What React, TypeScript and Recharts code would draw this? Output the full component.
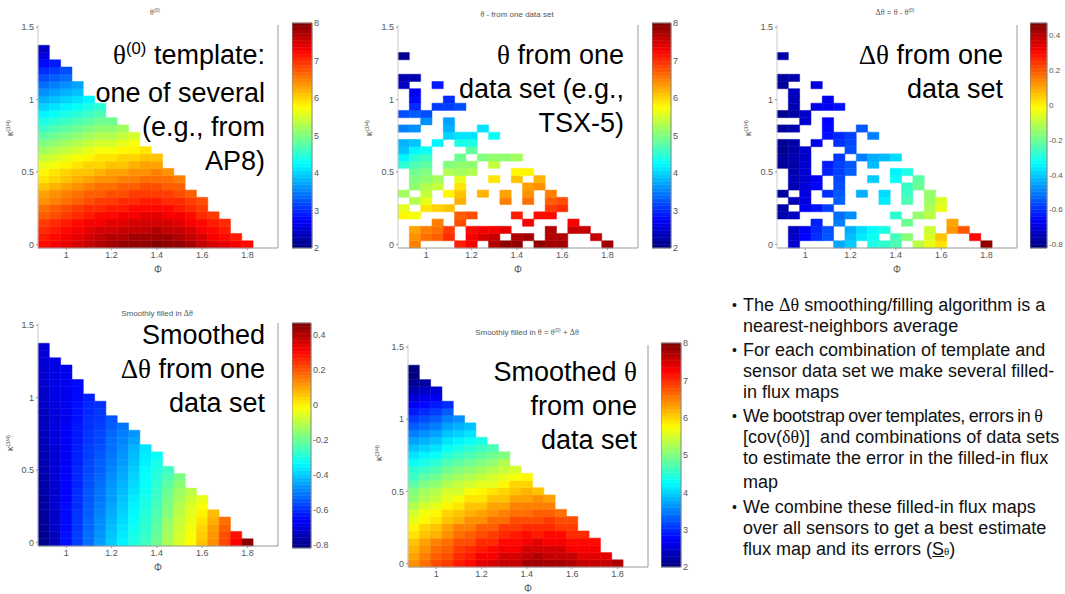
import React from "react";
import { ScatterChart, Scatter, XAxis, YAxis, ReferenceArea } from "recharts";

// grid centres
const PHI = [0.9, 0.95, 1.0, 1.05, 1.1, 1.15, 1.2, 1.25, 1.3, 1.35, 1.4, 1.45, 1.5, 1.55, 1.6, 1.65, 1.7, 1.75, 1.8];
const KAPPA = [
  0, 0.05, 0.1, 0.15, 0.2, 0.25, 0.3, 0.35, 0.4, 0.45, 0.5, 0.55, 0.6, 0.65,
  0.7, 0.75, 0.8, 0.85, 0.9, 0.95, 1.0, 1.05, 1.1, 1.15, 1.2, 1.25, 1.3, 1.35,
];
const PHI_TICKS = [1, 1.2, 1.4, 1.6, 1.8];
const KAPPA_TICKS = [0, 0.5, 1, 1.5];
const THETA_TICKS = [2, 3, 4, 5, 6, 7, 8];
const DELTA_TICKS = [-0.8, -0.6, -0.4, -0.2, 0, 0.2, 0.4];
const THETA_RANGE: [number, number] = [2, 8];
const DELTA_RANGE: [number, number] = [-0.82, 0.47];

const n = null;

// each inner array is one Φ column, from κ = 0 upwards
const theta0Cols: number[][] = [
  [7.2, 7.1, 7.0, 6.9, 6.7, 6.6, 6.4, 6.3, 6.1, 5.9, 5.8, 5.6, 5.4, 5.2, 5.0, 4.8, 4.6, 4.4, 4.2, 4.0, 3.8, 3.6, 3.4, 3.2, 3.0, 2.8, 2.6, 2.4],
  [7.3, 7.2, 7.1, 7.0, 6.8, 6.7, 6.5, 6.4, 6.2, 6.0, 5.9, 5.7, 5.5, 5.3, 5.1, 4.9, 4.7, 4.5, 4.3, 4.1, 3.9, 3.7, 3.5, 3.3, 3.1, 2.9],
  [7.4, 7.3, 7.2, 7.1, 6.9, 6.8, 6.6, 6.5, 6.3, 6.1, 6.0, 5.8, 5.6, 5.4, 5.2, 5.0, 4.8, 4.6, 4.4, 4.2, 4.0, 3.8, 3.6, 3.4, 3.2],
  [7.5, 7.4, 7.3, 7.2, 7.0, 6.9, 6.7, 6.6, 6.4, 6.2, 6.1, 5.9, 5.7, 5.5, 5.3, 5.1, 4.9, 4.7, 4.5, 4.3, 4.1, 3.9, 3.7],
  [7.6, 7.5, 7.4, 7.3, 7.1, 7.0, 6.8, 6.7, 6.5, 6.3, 6.1, 6.0, 5.8, 5.6, 5.4, 5.2, 5.0, 4.8, 4.6, 4.4, 4.2],
  [7.7, 7.6, 7.5, 7.3, 7.2, 7.0, 6.9, 6.7, 6.6, 6.4, 6.2, 6.0, 5.9, 5.7, 5.5, 5.3, 5.1, 4.9, 4.7, 4.5],
  [7.8, 7.7, 7.5, 7.4, 7.2, 7.1, 6.9, 6.8, 6.6, 6.4, 6.3, 6.1, 5.9, 5.7, 5.5, 5.3, 5.1, 4.9],
  [7.9, 7.7, 7.6, 7.4, 7.3, 7.1, 7.0, 6.8, 6.7, 6.5, 6.3, 6.1, 6.0, 5.8, 5.6, 5.4, 5.2],
  [7.9, 7.8, 7.6, 7.5, 7.3, 7.2, 7.0, 6.9, 6.7, 6.5, 6.4, 6.2, 6.0, 5.8, 5.7, 5.5],
  [7.9, 7.8, 7.6, 7.5, 7.4, 7.2, 7.1, 6.9, 6.8, 6.6, 6.4, 6.3, 6.1, 5.9],
  [8.0, 7.8, 7.7, 7.5, 7.4, 7.2, 7.1, 6.9, 6.8, 6.6, 6.5, 6.3, 6.1],
  [7.9, 7.8, 7.6, 7.5, 7.3, 7.2, 7.0, 6.9, 6.7, 6.6, 6.4],
  [7.9, 7.7, 7.6, 7.4, 7.3, 7.1, 7.0, 6.8, 6.7, 6.5],
  [7.8, 7.6, 7.5, 7.3, 7.2, 7.0, 6.9, 6.7],
  [7.6, 7.5, 7.3, 7.2, 7.0, 6.9, 6.8],
  [7.5, 7.3, 7.2, 7.1, 6.9],
  [7.4, 7.2, 7.1, 7.0],
  [7.3, 7.1],
  [7.2],
];

const thetaCols: (number | null)[][] = [
  [n, n, n, n, 5.8, 5.6, n, 5.2, n, n, n, 4.5, 4.2, 3.9, 3.8, n, 3.5, n, 3.2, n, n, n, 2.4, 2.3, n, n, 2.1, n],
  [6.5, 6.4, 6.3, n, 5.7, n, 5.3, n, 5.1, 5.0, 4.9, 4.7, 4.5, 4.2, 3.9, n, 3.6, n, 3.3, 3.0, 2.8, 2.7, n, 2.3, n, n],
  [n, 6.6, 6.5, n, n, 5.9, 5.6, 5.4, 5.3, 5.1, 5.0, 4.8, 4.6, 4.3, n, n, n, 3.6, 3.2, n, n, n, n, n, n],
  [n, 6.7, 6.6, 6.5, n, 6.0, n, n, 5.4, 5.2, n, n, n, n, 4.2, n, n, n, n, 3.1, n, n, 2.9],
  [n, 7.0, 6.9, n, n, 6.1, n, 5.8, n, n, 5.3, 5.0, n, n, n, 4.0, 3.8, 3.7, n, 3.1, 3.0],
  [7.1, n, n, 6.8, 6.7, n, 6.2, 6.1, 5.9, 5.6, 5.2, 5.1, 4.9, n, 4.4, 4.1, n, n, n, 3.2],
  [7.3, 7.3, 7.2, n, 6.8, n, n, n, n, n, 5.3, 5.1, n, 4.8, 4.4, 4.1, n, n],
  [n, 7.5, 7.3, n, n, n, n, 6.2, n, n, n, n, 5.0, n, n, n, 4.1],
  [7.7, 7.6, 7.3, n, n, n, n, n, n, 5.9, n, 5.4, 5.1, n, n, 4.3],
  [7.9, n, 7.4, n, n, n, 6.5, 6.3, n, n, n, n, 5.1, n],
  [7.9, 7.7, n, n, 7.1, n, n, n, n, 6.1, 5.8, n, 5.2],
  [n, 7.8, n, 7.3, n, n, 6.6, 6.4, 6.3, n, 5.8],
  [7.9, n, n, n, 7.2, n, n, n, 6.4, 6.2],
  [7.8, 7.7, 7.7, n, 7.2, 6.9, 6.7, 6.5],
  [7.8, 7.7, n, n, n, 7.0, 6.8],
  [n, n, 7.6, 7.3, n],
  [n, n, 7.6, n],
  [n, 7.6],
  [7.8],
];

const deltaCols: (number | null)[][] = [
  [n, n, n, n, -0.76, -0.77, n, -0.78, n, n, n, -0.79, -0.78, -0.8, -0.79, n, -0.78, n, -0.8, n, n, n, -0.79, -0.78, n, n, -0.77, n],
  [-0.72, -0.73, -0.74, n, -0.74, n, -0.75, n, -0.76, -0.75, -0.76, -0.77, -0.76, -0.77, -0.77, n, -0.76, n, -0.77, -0.76, -0.75, -0.74, n, -0.76, n, n],
  [n, -0.66, -0.67, n, n, -0.68, -0.7, -0.7, -0.71, -0.72, -0.71, -0.72, -0.73, -0.72, n, n, n, -0.72, -0.73, n, n, n, n, n, n],
  [n, -0.6, -0.61, -0.62, n, -0.64, n, n, -0.66, -0.67, n, n, n, n, -0.68, n, n, n, n, -0.69, n, n, -0.7],
  [n, -0.55, -0.56, n, n, -0.58, n, -0.6, n, n, -0.62, -0.63, n, n, n, -0.64, -0.65, -0.66, n, -0.67, -0.68],
  [-0.45, n, n, -0.5, -0.52, n, -0.54, -0.55, -0.56, -0.57, -0.58, -0.58, -0.59, n, -0.6, -0.61, n, n, n, -0.64],
  [-0.4, -0.42, -0.44, n, -0.48, n, n, n, n, n, -0.54, -0.55, n, -0.56, -0.57, -0.58, n, n],
  [n, -0.36, -0.38, n, n, n, n, -0.44, n, n, n, n, -0.5, n, n, n, -0.55],
  [-0.3, -0.32, -0.34, n, n, n, n, n, n, -0.4, n, -0.42, -0.44, n, n, -0.5],
  [-0.28, n, -0.3, n, n, n, -0.36, -0.38, n, n, n, n, -0.42, n],
  [-0.24, -0.25, n, n, -0.28, n, n, n, n, -0.33, -0.35, n, -0.38],
  [n, -0.16, n, -0.2, n, n, -0.24, -0.26, -0.27, n, -0.3],
  [-0.1, n, n, n, -0.15, n, n, n, -0.2, -0.22],
  [-0.04, -0.06, -0.08, n, -0.1, -0.12, -0.14, -0.15],
  [0.02, 0.06, n, n, n, -0.04, -0.06],
  [n, n, 0.12, 0.1, n],
  [n, n, 0.2, n],
  [n, 0.3],
  [0.45],
];

const smoothDeltaCols: number[][] = [
  [-0.8, -0.8, -0.79, -0.79, -0.78, -0.78, -0.78, -0.77, -0.77, -0.77, -0.76, -0.76, -0.76, -0.75, -0.75, -0.75, -0.74, -0.74, -0.74, -0.73, -0.73, -0.73, -0.72, -0.72, -0.72, -0.71, -0.71, -0.71],
  [-0.74, -0.74, -0.73, -0.73, -0.73, -0.72, -0.72, -0.72, -0.72, -0.71, -0.71, -0.71, -0.71, -0.71, -0.7, -0.7, -0.7, -0.7, -0.7, -0.7, -0.69, -0.69, -0.69, -0.69, -0.69, -0.69],
  [-0.64, -0.64, -0.65, -0.65, -0.65, -0.65, -0.66, -0.66, -0.66, -0.66, -0.66, -0.67, -0.67, -0.67, -0.67, -0.67, -0.67, -0.68, -0.68, -0.68, -0.68, -0.68, -0.68, -0.68, -0.68],
  [-0.58, -0.58, -0.59, -0.59, -0.59, -0.6, -0.6, -0.6, -0.61, -0.61, -0.61, -0.62, -0.62, -0.62, -0.63, -0.63, -0.63, -0.64, -0.64, -0.64, -0.65, -0.65, -0.65],
  [-0.52, -0.52, -0.53, -0.53, -0.54, -0.54, -0.55, -0.55, -0.56, -0.56, -0.57, -0.57, -0.58, -0.58, -0.59, -0.59, -0.6, -0.6, -0.61, -0.61, -0.62],
  [-0.46, -0.47, -0.48, -0.48, -0.49, -0.5, -0.51, -0.51, -0.52, -0.53, -0.54, -0.54, -0.55, -0.56, -0.57, -0.57, -0.58, -0.59, -0.59, -0.6],
  [-0.4, -0.41, -0.42, -0.43, -0.44, -0.45, -0.46, -0.46, -0.47, -0.48, -0.49, -0.5, -0.51, -0.52, -0.52, -0.53, -0.54, -0.55],
  [-0.35, -0.36, -0.37, -0.38, -0.39, -0.4, -0.41, -0.42, -0.43, -0.44, -0.45, -0.46, -0.47, -0.48, -0.49, -0.5, -0.51],
  [-0.3, -0.31, -0.32, -0.33, -0.34, -0.35, -0.36, -0.37, -0.38, -0.39, -0.4, -0.41, -0.42, -0.43, -0.45, -0.47],
  [-0.26, -0.27, -0.28, -0.28, -0.29, -0.3, -0.31, -0.32, -0.33, -0.33, -0.34, -0.35, -0.36, -0.37],
  [-0.2, -0.21, -0.22, -0.23, -0.24, -0.25, -0.26, -0.27, -0.28, -0.29, -0.3, -0.31, -0.33],
  [-0.12, -0.13, -0.14, -0.15, -0.17, -0.18, -0.19, -0.2, -0.22, -0.24, -0.26],
  [-0.06, -0.07, -0.08, -0.09, -0.1, -0.11, -0.13, -0.14, -0.16, -0.18],
  [-0.01, -0.02, -0.03, -0.04, -0.05, -0.06, -0.08, -0.1],
  [0.06, 0.05, 0.04, 0.02, 0.0, -0.02, -0.04],
  [0.13, 0.12, 0.11, 0.09, 0.07],
  [0.22, 0.21, 0.19, 0.17],
  [0.31, 0.29],
  [0.45],
];

const smoothThetaCols: number[][] = [
  [6.4, 6.3, 6.2, 6.1, 5.9, 5.8, 5.6, 5.5, 5.3, 5.1, 5.0, 4.8, 4.6, 4.5, 4.3, 4.1, 3.9, 3.7, 3.5, 3.3, 3.1, 2.9, 2.7, 2.5, 2.3, 2.1, 1.9, 1.7],
  [6.6, 6.5, 6.4, 6.3, 6.1, 6.0, 5.8, 5.7, 5.5, 5.3, 5.2, 5.0, 4.8, 4.6, 4.4, 4.2, 4.0, 3.8, 3.6, 3.4, 3.2, 3.0, 2.8, 2.6, 2.4, 2.2],
  [6.8, 6.7, 6.6, 6.5, 6.2, 6.1, 5.9, 5.8, 5.6, 5.4, 5.3, 5.1, 4.9, 4.7, 4.5, 4.3, 4.1, 3.9, 3.7, 3.5, 3.3, 3.1, 2.9, 2.7, 2.5],
  [6.9, 6.8, 6.7, 6.6, 6.4, 6.3, 6.1, 6.0, 5.8, 5.6, 5.5, 5.3, 5.1, 4.9, 4.7, 4.5, 4.3, 4.1, 3.9, 3.7, 3.5, 3.3, 3.0],
  [7.1, 7.0, 6.9, 6.8, 6.6, 6.5, 6.2, 6.1, 5.9, 5.7, 5.5, 5.4, 5.2, 5.0, 4.8, 4.6, 4.4, 4.2, 4.0, 3.8, 3.6],
  [7.2, 7.1, 7.0, 6.8, 6.7, 6.5, 6.4, 6.2, 6.1, 5.9, 5.7, 5.5, 5.3, 5.1, 4.9, 4.7, 4.5, 4.3, 4.1, 3.9],
  [7.4, 7.3, 7.1, 7.0, 6.8, 6.7, 6.4, 6.3, 6.1, 5.9, 5.8, 5.6, 5.4, 5.2, 5.0, 4.8, 4.6, 4.4],
  [7.5, 7.3, 7.2, 7.0, 6.9, 6.7, 6.6, 6.4, 6.3, 6.1, 5.9, 5.6, 5.5, 5.3, 5.1, 4.9, 4.7],
  [7.6, 7.5, 7.3, 7.2, 7.0, 6.9, 6.6, 6.5, 6.3, 6.1, 6.0, 5.8, 5.6, 5.4, 5.3, 5.0],
  [7.6, 7.5, 7.3, 7.2, 7.1, 6.9, 6.8, 6.6, 6.5, 6.3, 6.1, 6.0, 5.7, 5.5],
  [7.8, 7.6, 7.5, 7.3, 7.2, 7.0, 6.8, 6.6, 6.5, 6.3, 6.2, 6.0, 5.8],
  [7.8, 7.7, 7.5, 7.4, 7.1, 7.0, 6.8, 6.7, 6.5, 6.4, 6.1],
  [7.8, 7.6, 7.5, 7.3, 7.2, 7.0, 6.9, 6.7, 6.5, 6.3],
  [7.8, 7.6, 7.5, 7.3, 7.2, 6.9, 6.8, 6.6],
  [7.7, 7.6, 7.3, 7.2, 7.0, 6.9, 6.8],
  [7.6, 7.4, 7.3, 7.2, 7.0],
  [7.6, 7.4, 7.3, 7.2],
  [7.6, 7.4],
  [7.7],
];

const PHI_DOMAIN: [number, number] = [0.875, 1.935];
const KAPPA_DOMAIN: [number, number] = [-0.025, 1.515];
const HALF = 0.025;
const Y_AXIS_W = 30;
const RIGHT_AXIS_W = 6;
const TOP_AXIS_H = 4;
const X_AXIS_H = 30;
const TICK = { fill: "#555", fontSize: 9 };
const SANS = '"Liberation Sans", Arial, sans-serif';
const SERIF = '"Liberation Serif", "DejaVu Serif", serif';

function jet(t: number) {
  const tt = Math.min(1, Math.max(0, t));
  const c = (v: number) => Math.round(255 * Math.min(1, Math.max(0, v)));
  return `rgb(${c(1.5 - Math.abs(4 * tt - 3))},${c(1.5 - Math.abs(4 * tt - 2))},${c(1.5 - Math.abs(4 * tt - 1))})`;
}

interface HeatmapProps {
  cols: (number | null)[][];
  range: [number, number];
  left: number;
  top: number;
  width?: number;
  height?: number;
}

function Heatmap({ cols, range, left, top, width = 240, height = 223 }: HeatmapProps) {
  const [lo, hi] = range;
  const cells: { phi: number; k: number; v: number }[] = [];
  cols.forEach((col, i) =>
    col.forEach((v, j) => {
      if (v !== null) cells.push({ phi: PHI[i], k: KAPPA[j], v });
    })
  );
  return (
    <div style={{ position: "absolute", left: left - Y_AXIS_W, top: top - TOP_AXIS_H }}>
      <ScatterChart
        width={width + Y_AXIS_W + RIGHT_AXIS_W}
        height={height + TOP_AXIS_H + X_AXIS_H}
        margin={{ top: 0, right: 0, bottom: 0, left: 0 }}
        style={{ fontFamily: SANS }}
      >
        <XAxis
          type="number"
          dataKey="phi"
          domain={PHI_DOMAIN}
          ticks={PHI_TICKS}
          allowDataOverflow
          height={X_AXIS_H}
          tickSize={2}
          tickMargin={2}
          tick={TICK}
          axisLine={{ stroke: "#999" }}
          tickLine={{ stroke: "#999" }}
          label={{ value: "Φ", position: "insideBottom", offset: 5, fill: "#555", fontSize: 10 }}
        />
        <XAxis
          xAxisId="top"
          orientation="top"
          type="number"
          dataKey="phi"
          domain={PHI_DOMAIN}
          ticks={PHI_TICKS}
          allowDataOverflow
          height={TOP_AXIS_H}
          tick={false}
          axisLine={false}
          tickSize={2}
          tickLine={{ stroke: "#999" }}
        />
        <YAxis
          type="number"
          dataKey="k"
          domain={KAPPA_DOMAIN}
          ticks={KAPPA_TICKS}
          allowDataOverflow
          width={Y_AXIS_W}
          tickSize={2}
          tickMargin={2}
          tick={TICK}
          axisLine={{ stroke: "#ccc" }}
          tickLine={{ stroke: "#999" }}
        />
        <YAxis
          yAxisId="right"
          orientation="right"
          type="number"
          dataKey="k"
          domain={KAPPA_DOMAIN}
          ticks={KAPPA_TICKS}
          allowDataOverflow
          width={RIGHT_AXIS_W}
          tick={false}
          tickSize={2}
          axisLine={{ stroke: "#999" }}
          tickLine={{ stroke: "#999" }}
        />
        {cells.map((c) => {
          const color = jet((c.v - lo) / (hi - lo));
          return (
            <ReferenceArea
              key={`${c.phi}-${c.k}`}
              x1={c.phi - HALF}
              x2={c.phi + HALF}
              y1={c.k - HALF}
              y2={c.k + HALF}
              ifOverflow="visible"
              fill={color}
              fillOpacity={1}
              stroke={color}
              strokeWidth={0.5}
            />
          );
        })}
        <Scatter data={[]} isAnimationActive={false} />
      </ScatterChart>
    </div>
  );
}

interface ColorBarProps {
  range: [number, number];
  ticks: number[];
  left: number;
  top: number;
  width: number;
  height: number;
  fontSize?: number;
}

function ColorBar({ range, ticks, left, top, width, height, fontSize = 9 }: ColorBarProps) {
  const [lo, hi] = range;
  const steps = Array.from({ length: 64 }, (_, i) => i);
  const pad = 6;
  return (
    <div style={{ position: "absolute", left, top: top - pad }}>
      <ScatterChart
        width={width + 30}
        height={height + pad * 2}
        margin={{ top: pad, right: 0, bottom: pad, left: 0 }}
        style={{ fontFamily: SANS }}
      >
        <XAxis
          type="number"
          dataKey="x"
          domain={[0, 1]}
          allowDataOverflow
          height={0}
          tick={false}
          tickLine={false}
          axisLine={false}
        />
        <YAxis
          type="number"
          dataKey="y"
          orientation="right"
          domain={range}
          ticks={ticks}
          allowDataOverflow
          width={30}
          tickLine={false}
          axisLine={false}
          tickSize={1}
          tickMargin={1}
          tick={{ fill: "#555", fontSize }}
        />
        {steps.map((i) => {
          const color = jet((i + 0.5) / 64);
          return (
            <ReferenceArea
              key={i}
              x1={0}
              x2={1}
              y1={lo + ((hi - lo) * i) / 64}
              y2={lo + ((hi - lo) * (i + 1)) / 64}
              ifOverflow="visible"
              fill={color}
              fillOpacity={1}
              stroke={color}
              strokeWidth={0.5}
            />
          );
        })}
        <ReferenceArea x1={0} x2={1} y1={lo} y2={hi} ifOverflow="visible" fill="none" stroke="#888" strokeWidth={1} />
        <Scatter data={[]} isAnimationActive={false} />
      </ScatterChart>
    </div>
  );
}

const G = ({ c }: { c: string }) => <span style={{ fontFamily: SERIF }}>{c}</span>;
const Sup = ({ c }: { c: string }) => (
  <span style={{ fontSize: "0.62em", position: "relative", top: "-0.6em" }}>{c}</span>
);

function Title({ cx, y, children }: { cx: number; y: number; children: React.ReactNode }) {
  return (
    <div
      style={{
        position: "absolute",
        left: cx,
        top: y - 6,
        transform: "translateX(-50%)",
        fontSize: 8,
        lineHeight: "12px",
        color: "#555",
        whiteSpace: "nowrap",
      }}
    >
      {children}
    </div>
  );
}

function KappaLabel({ x, y }: { x: number; y: number }) {
  return (
    <div
      style={{
        position: "absolute",
        left: x,
        top: y,
        transform: "translate(-50%, -50%) rotate(-90deg)",
        fontSize: 9,
        color: "#555",
        whiteSpace: "nowrap",
      }}
    >
      κ<Sup c="(3/4)" />
    </div>
  );
}

function Caption({ right, top, lines }: { right: number; top: number; lines: React.ReactNode[] }) {
  return (
    <div
      style={{
        position: "absolute",
        right: 1065 - right,
        top: top - 17,
        textAlign: "right",
        fontSize: 27,
        lineHeight: "34px",
        color: "#000",
        whiteSpace: "nowrap",
      }}
    >
      {lines.map((l, i) => (
        <div key={i}>{l}</div>
      ))}
    </div>
  );
}

const bulletLines: { y: number; bullet: boolean; text: React.ReactNode; tight?: boolean }[] = [
  { y: 305, bullet: true, text: <>The <G c="Δθ" /> smoothing/filling algorithm is a</> },
  { y: 326, bullet: false, text: <>nearest-neighbors average</> },
  { y: 350, bullet: true, text: <>For each combination of template and</> },
  { y: 371, bullet: false, text: <>sensor data set we make several filled-</> },
  { y: 392, bullet: false, text: <>in flux maps</> },
  { y: 416, bullet: true, tight: true, text: <>We bootstrap over templates, errors in <G c="θ" /></> },
  { y: 437, bullet: false, text: <>[cov(<G c="δθ" />)]&nbsp; and combinations of data sets</> },
  { y: 458, bullet: false, text: <>to estimate the error in the filled-in flux</> },
  { y: 482, bullet: false, text: <>map</> },
  { y: 507, bullet: true, text: <>We combine these filled-in flux maps</> },
  { y: 528, bullet: false, text: <>over all sensors to get a best estimate</> },
  {
    y: 549,
    bullet: false,
    text: (
      <>
        flux map and its errors (<span style={{ textDecoration: "underline" }}>S</span>
        <span style={{ fontFamily: SERIF, fontSize: "0.6em" }}>θ</span>)
      </>
    ),
  },
];

export default function App() {
  return (
    <div
      style={{
        position: "absolute",
        left: 0,
        top: 0,
        width: 1065,
        height: 594,
        overflow: "hidden",
        background: "#fff",
        fontFamily: SANS,
      }}
    >
      <Heatmap cols={theta0Cols} range={THETA_RANGE} left={38} top={25} />
      <ColorBar range={THETA_RANGE} ticks={THETA_TICKS} left={292} top={23} width={20} height={225} />
      <Heatmap cols={thetaCols} range={THETA_RANGE} left={398} top={25} />
      <ColorBar range={THETA_RANGE} ticks={THETA_TICKS} left={652} top={23} width={19} height={225} />
      <Heatmap cols={deltaCols} range={DELTA_RANGE} left={777} top={25} />
      <ColorBar range={DELTA_RANGE} ticks={DELTA_TICKS} left={1030} top={23} width={17} height={225} fontSize={8} />
      <Heatmap cols={smoothDeltaCols} range={DELTA_RANGE} left={38} top={323} />
      <ColorBar range={DELTA_RANGE} ticks={DELTA_TICKS} left={292} top={323} width={19} height={225} />
      <Heatmap cols={smoothThetaCols} range={THETA_RANGE} left={408} top={345} height={222} />
      <ColorBar range={THETA_RANGE} ticks={THETA_TICKS} left={661} top={343} width={20} height={224} />

      <Title cx={155} y={13}>
        <G c="θ" />
        <Sup c="(0)" />
      </Title>
      <Title cx={517} y={15}>
        <G c="θ" /> - from one data set
      </Title>
      <Title cx={895} y={13}>
        <G c="Δθ" /> = <G c="θ" /> - <G c="θ" />
        <Sup c="(0)" />
      </Title>
      <Title cx={157} y={314}>
        Smoothly filled in <G c="Δθ" />
      </Title>
      <Title cx={527} y={333}>
        Smoothly filled in <G c="θ" /> = <G c="θ" />
        <Sup c="(0)" /> + <G c="Δθ" />
      </Title>

      <KappaLabel x={10} y={128} />
      <KappaLabel x={369} y={128} />
      <KappaLabel x={748} y={128} />
      <KappaLabel x={10} y={443} />
      <KappaLabel x={379} y={453} />

      <Caption
        right={265}
        top={55}
        lines={[
          <>
            <G c="θ" />
            <Sup c="(0)" /> template:
          </>,
          "one of several",
          "(e.g., from",
          "AP8)",
        ]}
      />
      <Caption right={624} top={55} lines={[<><G c="θ" /> from one</>, "data set (e.g.,", "TSX-5)"]} />
      <Caption right={1003} top={55} lines={[<><G c="Δθ" /> from one</>, "data set"]} />
      <Caption right={265} top={335} lines={["Smoothed", <><G c="Δθ" /> from one</>, "data set"]} />
      <Caption right={637} top={372} lines={[<>Smoothed <G c="θ" /></>, "from one", "data set"]} />

      {bulletLines.map((l, i) => (
        <div
          key={i}
          style={{
            position: "absolute",
            left: 743,
            top: l.y - 11,
            fontSize: 18,
            lineHeight: "22px",
            color: "#111",
            whiteSpace: "nowrap",
            letterSpacing: l.tight ? "-0.35px" : undefined,
            wordSpacing: l.tight ? "-1px" : undefined,
          }}
        >
          {l.bullet && <span style={{ position: "absolute", left: -11, fontSize: 14 }}>•</span>}
          {l.text}
        </div>
      ))}
    </div>
  );
}
